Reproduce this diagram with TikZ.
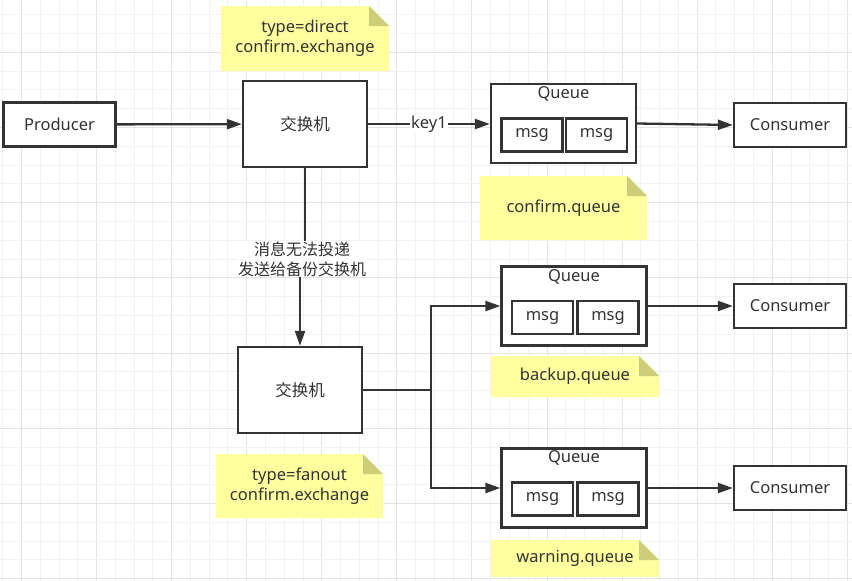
\documentclass[tikz,border=0pt]{standalone}
\usepackage{fontspec}
\setmainfont{Noto Sans}
\newfontfamily\cjk{Noto Sans CJK SC}
\usetikzlibrary{arrows.meta}
\definecolor{ink}{HTML}{333333}
\definecolor{notefill}{RGB}{255,255,160}
\definecolor{foldfill}{RGB}{206,206,120}
\definecolor{gridminor}{RGB}{242,242,242}
\definecolor{gridmajor}{RGB}{228,228,228}
\tikzset{
  txt/.style={font=\fontsize{16.5}{20}\selectfont, text=ink, align=center},
  boxnode/.style={txt, draw=ink, line width=2.3pt, fill=white, inner sep=0pt},
  msgbox/.style={boxnode, minimum width=61pt, minimum height=33pt},
  consbox/.style={boxnode, minimum width=112pt, minimum height=44pt},
  qbox/.style={boxnode, minimum width=145pt, minimum height=79pt},
  exbox/.style={boxnode, minimum width=124pt, minimum height=86pt},
  lbl/.style={txt, fill=white, inner sep=1pt},
  notebox/.style={txt, inner sep=0pt,
    path picture={
      \fill[notefill] (path picture bounding box.north west)
        -- ([xshift=-20pt]path picture bounding box.north east)
        -- ([yshift=-20pt]path picture bounding box.north east)
        -- (path picture bounding box.south east)
        -- (path picture bounding box.south west) -- cycle;
      \fill[foldfill] ([xshift=-20pt]path picture bounding box.north east)
        -- ([xshift=-20pt,yshift=-20pt]path picture bounding box.north east)
        -- ([yshift=-20pt]path picture bounding box.north east) -- cycle;
    }},
  arr/.style={draw=ink, line width=2.3pt, -{Triangle[length=15pt,width=10pt]}},
  ln/.style={draw=ink, line width=2.3pt},
}
\begin{document}
\begin{tikzpicture}[x=1pt,y=-1pt]
\useasboundingbox (0,0) rectangle (852,581);
\fill[white] (0,0) rectangle (852,581);
% grid
\foreach \i in {0,...,45}{
  \pgfmathsetmacro{\xx}{2.7+18.77*\i}
  \pgfmathtruncatemacro{\m}{mod(\i,4)}
  \ifnum\m=1 \draw[gridmajor, line width=1pt] (\xx,0) -- (\xx,581);
  \else \draw[gridminor, line width=1pt] (\xx,0) -- (\xx,581); \fi
}
\foreach \i in {1,...,31}{
  \pgfmathsetmacro{\yy}{-4.1+18.8*\i}
  \pgfmathtruncatemacro{\m}{mod(\i,4)}
  \ifnum\m=3 \draw[gridmajor, line width=1pt] (0,\yy) -- (852,\yy);
  \else \draw[gridminor, line width=1pt] (0,\yy) -- (852,\yy); \fi
}

% notes
\node[notebox, minimum width=168pt, minimum height=65pt] (n1) at (305,38.5) {type=direct\\confirm.exchange};
\node[notebox, minimum width=167pt, minimum height=64pt] (n2) at (563.5,208) {confirm.queue};
\node[notebox, minimum width=168pt, minimum height=41pt] (n3) at (575,376.5) {backup.queue};
\node[notebox, minimum width=168pt, minimum height=37pt] (n4) at (575,558.5) {warning.queue};
\node[notebox, minimum width=167pt, minimum height=64pt] (n5) at (299.5,486) {type=fanout\\confirm.exchange};

% boxes
\node[consbox] (prod) at (59.5,124.5) {Producer};
\node[exbox] (ex1) at (305,124) {\cjk 交换机};
\node[exbox] (ex2) at (300,390) {\cjk 交换机};

\node[qbox] (q1) at (563.5,123.5) {};
\node[txt] (q1t) at (563.5,93.5) {Queue};
\node[msgbox] (m1a) at (532,135) {msg};
\node[msgbox] (m1b) at (596.5,135) {msg};

\node[qbox] (q2) at (574,306) {};
\node[txt] (q2t) at (574,276.5) {Queue};
\node[msgbox] (m2a) at (542.5,317.5) {msg};
\node[msgbox] (m2b) at (608,317.5) {msg};

\node[qbox] (q3) at (574,488) {};
\node[txt] (q3t) at (574,457.5) {Queue};
\node[msgbox] (m3a) at (542.5,499) {msg};
\node[msgbox] (m3b) at (608,499) {msg};

\node[consbox] (c1) at (790,125) {Consumer};
\node[consbox] (c2) at (790,306) {Consumer};
\node[consbox] (c3) at (790,488) {Consumer};

% connectors
\draw[arr] (prod) -- (ex1);
\draw[arr] (ex1.east) -- (q1.west |- ex1.east);
\node[lbl] (k1) at (429,124) {key1};
\draw[arr] (q1.east) -- (c1.west);
\draw[arr] (q2.east) -- (c2.west);
\draw[arr] (q3.east) -- (c3.west);

\coordinate (mid) at (302,259);
\draw[arr] (ex1.south) |- (mid) -| (ex2.north);
\node[lbl, font=\cjk\fontsize{16}{20}\selectfont] (lb) at (mid) {消息无法投递\\发送给备份交换机};

\coordinate (j) at (431,390);
\draw[ln] (ex2.east) -- (j);
\draw[arr] (j) |- (q2.west);
\draw[arr] (j) |- (q3.west);
\end{tikzpicture}
\end{document}
